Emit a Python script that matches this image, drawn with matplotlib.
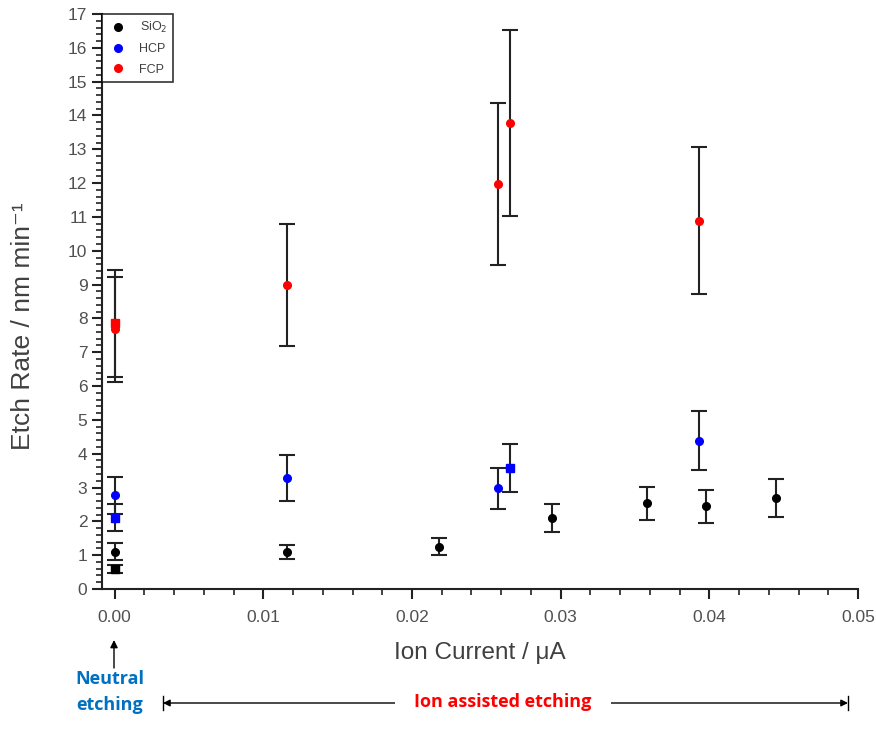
import matplotlib
matplotlib.use("Agg")
import matplotlib.pyplot as plt
from matplotlib.lines import Line2D
from matplotlib.ticker import MultipleLocator

plt.rcParams['font.family'] = ['Liberation Sans', 'DejaVu Sans']

# ---- data ----
sio2_x = [0.0, 0.0, 0.0116, 0.0218, 0.0294, 0.0358, 0.0398, 0.0445]
sio2_y = [1.10, 0.59, 1.09, 1.25, 2.10, 2.53, 2.44, 2.69]
sio2_e = [0.25, 0.12, 0.20, 0.25, 0.40, 0.50, 0.48, 0.55]
sio2_m = ['o', 's', 'o', 'o', 'o', 'o', 'o', 'o']

hcp_x = [0.0, 0.0, 0.0116, 0.0258, 0.0266, 0.0393]
hcp_y = [2.77, 2.11, 3.28, 2.98, 3.58, 4.38]
hcp_e = [0.55, 0.40, 0.67, 0.60, 0.70, 0.87]
hcp_m = ['o', 's', 'o', 'o', 's', 'o']

fcp_x = [0.0, 0.0, 0.0116, 0.0258, 0.0266, 0.0393]
fcp_y = [7.85, 7.68, 8.98, 11.97, 13.78, 10.89]
fcp_e = [1.58, 1.55, 1.80, 2.39, 2.76, 2.17]
fcp_m = ['s', 'o', 'o', 'o', 'o', 'o']

x_ticks = [0.00, 0.01, 0.02, 0.03, 0.04, 0.05]
x_ticklabels = ['0.00', '0.01', '0.02', '0.03', '0.04', '0.05']
y_ticks = list(range(0, 18))

fig = plt.figure(figsize=(8.76, 7.53), dpi=100)
W, H = 876, 753
ax = fig.add_axes([102 / W, 1 - 589 / H, (858 - 102) / W, (589 - 14) / H])

handles = []
labels = []

def plot_series(xs, ys, es, ms, color, label):
    for x, y, e, m in zip(xs, ys, es, ms):
        ax.errorbar(x, y, yerr=e, fmt='none', ecolor='#222222', elinewidth=1.5,
                    capsize=6, capthick=1.5, zorder=2)
        ax.plot(x, y, marker=m, color=color, markersize=5.5, linestyle='none', zorder=3)
    handles.append(Line2D([], [], marker='o', color=color, markersize=5.5, linestyle='none'))
    labels.append(label)

plot_series(sio2_x, sio2_y, sio2_e, sio2_m, 'black', 'SiO$_2$')
plot_series(hcp_x, hcp_y, hcp_e, hcp_m, '#0000ff', 'HCP')
plot_series(fcp_x, fcp_y, fcp_e, fcp_m, '#ff0000', 'FCP')

ax.set_xlim(-0.00085, 0.05)
ax.set_ylim(0, 17)
ax.set_xticks(x_ticks)
ax.set_xticklabels(x_ticklabels)
ax.set_yticks(y_ticks)
ax.xaxis.set_minor_locator(MultipleLocator(0.002))
ax.yaxis.set_minor_locator(MultipleLocator(0.2))
ax.tick_params(which='major', direction='out', length=7, width=1.5, colors='#222222',
               labelcolor='#505050', labelsize=12.5)
ax.tick_params(which='minor', direction='out', length=4, width=1.2, colors='#222222')
ax.tick_params(axis='x', which='major', pad=8)
for s in ['top', 'right']:
    ax.spines[s].set_visible(False)
for s in ['left', 'bottom']:
    ax.spines[s].set_linewidth(1.5)
    ax.spines[s].set_color('#222222')

ax.set_ylabel('Etch Rate / nm min\u207b\u00b9', fontsize=19, color='#404040')
ax.yaxis.set_label_coords(-0.088, 0.457)
ax.set_xlabel('Ion Current / \u03bcA', fontsize=17.5, color='#404040', labelpad=12)

leg = ax.legend(handles, labels, loc='upper left', bbox_to_anchor=(0.0, 1.0), fontsize=9,
                frameon=True, fancybox=False, edgecolor='black', borderpad=0.5,
                labelspacing=0.65, handlelength=1.5, handletextpad=1.0,
                borderaxespad=0.0)
leg.get_frame().set_linewidth(1.2)
for t in leg.get_texts():
    t.set_color('#404040')

# ---- annotations below ----
def fx(px):
    return px / W

def fy(py):
    return 1 - py / H

fig.patches.append(matplotlib.patches.FancyArrowPatch(
    (fx(114), fy(668)), (fx(114), fy(640)), transform=fig.transFigure,
    arrowstyle='-|>', mutation_scale=11, color='black', lw=1.0, shrinkA=0, shrinkB=0))

fig.text(fx(110), fy(679), 'Neutral', color='#0070C0', fontsize=13, fontweight='bold',
         ha='center', va='center', family=['Open Sans', 'DejaVu Sans'])
fig.text(fx(110), fy(705), 'etching', color='#0070C0', fontsize=13, fontweight='bold',
         ha='center', va='center', family=['Open Sans', 'DejaVu Sans'])

fig.patches.append(matplotlib.patches.FancyArrowPatch(
    (fx(163), fy(703)), (fx(848), fy(703)), transform=fig.transFigure,
    arrowstyle='<|-|>', mutation_scale=10, color='black', lw=1.0, shrinkA=0, shrinkB=0))
for px in (163, 848):
    fig.lines.append(Line2D([fx(px), fx(px)], [fy(696), fy(710)],
                            transform=fig.transFigure, color='black', lw=1.0))
fig.text(fx(503), fy(702), 'Ion assisted etching', color='#ff0000', fontsize=13,
         fontweight='bold', ha='center', va='center', family=['Open Sans', 'DejaVu Sans'],
         bbox=dict(facecolor='white', edgecolor='none', pad=14))

fig.savefig('out.png', dpi=100)
